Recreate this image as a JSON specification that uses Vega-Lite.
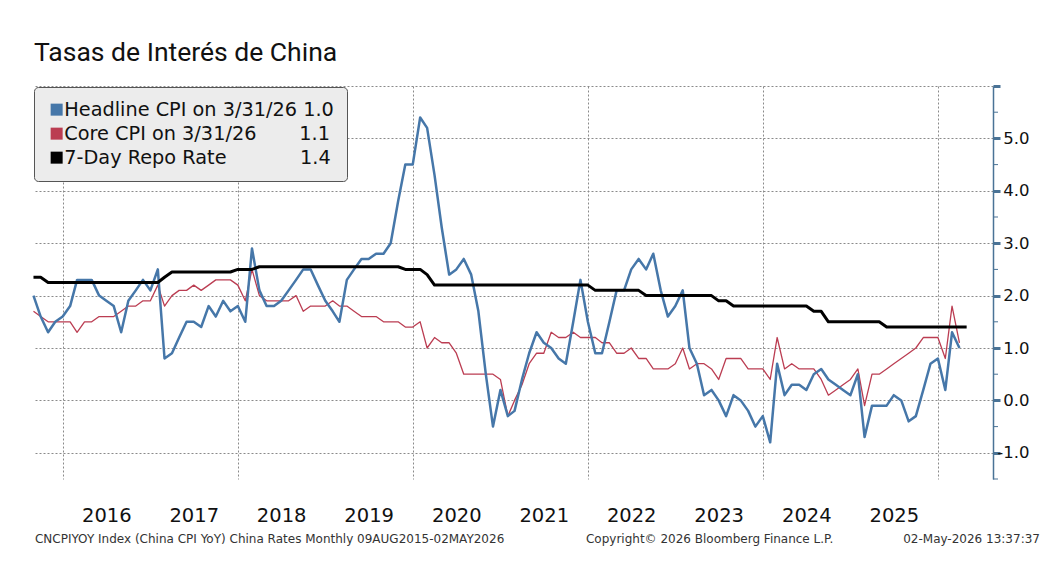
{
  "$schema": "https://vega.github.io/schema/vega-lite/v6.json",
  "autosize": "none",
  "width": 960,
  "height": 393,
  "padding": {"left": 33, "top": 86, "right": 68, "bottom": 85},
  "background": "white",
  "title": {"text": "Tasas de Interés de China", "anchor": "start", "frame": "group", "font": "Roboto", "fontSize": 26.5, "fontWeight": "normal", "color": "#111111", "offset": 12, "dx": 1},
  "config": {"view": {"stroke": null}, "font": "DejaVu Sans", "axis": {"grid": false}, "axisX": {"grid": false}, "axisTemporal": {"grid": false}},
  "datasets": {
    "years": [{"yr":"2016","mid":"2016-07-02"},{"yr":"2017","mid":"2017-07-02"},{"yr":"2018","mid":"2018-07-02"},{"yr":"2019","mid":"2019-07-02"},{"yr":"2020","mid":"2020-07-02"},{"yr":"2021","mid":"2021-07-02"},{"yr":"2022","mid":"2022-07-02"},{"yr":"2023","mid":"2023-07-02"},{"yr":"2024","mid":"2024-07-02"},{"yr":"2025","mid":"2025-07-02"}],
    "minor": [{"m":-1.5},{"m":-0.5},{"m":0.5},{"m":1.5},{"m":2.5},{"m":3.5},{"m":4.5},{"m":5.5}],
    "rates": [
    {"d":"2015-08-31","h":2.0,"c":1.7,"r":2.35},{"d":"2015-09-30","h":1.6,"c":1.6,"r":2.35},{"d":"2015-10-31","h":1.3,"c":1.5,"r":2.25},{"d":"2015-11-30","h":1.5,"c":1.5,"r":2.25},{"d":"2015-12-31","h":1.6,"c":1.5,"r":2.25},
    {"d":"2016-01-31","h":1.8,"c":1.5,"r":2.25},{"d":"2016-02-29","h":2.3,"c":1.3,"r":2.25},{"d":"2016-03-31","h":2.3,"c":1.5,"r":2.25},{"d":"2016-04-30","h":2.3,"c":1.5,"r":2.25},{"d":"2016-05-31","h":2.0,"c":1.6,"r":2.25},{"d":"2016-06-30","h":1.9,"c":1.6,"r":2.25},{"d":"2016-07-31","h":1.8,"c":1.6,"r":2.25},{"d":"2016-08-31","h":1.3,"c":1.7,"r":2.25},{"d":"2016-09-30","h":1.9,"c":1.8,"r":2.25},{"d":"2016-10-31","h":2.1,"c":1.8,"r":2.25},{"d":"2016-11-30","h":2.3,"c":1.9,"r":2.25},{"d":"2016-12-31","h":2.1,"c":1.9,"r":2.25},
    {"d":"2017-01-31","h":2.5,"c":2.2,"r":2.25},{"d":"2017-02-28","h":0.8,"c":1.8,"r":2.35},{"d":"2017-03-31","h":0.9,"c":2.0,"r":2.45},{"d":"2017-04-30","h":1.2,"c":2.1,"r":2.45},{"d":"2017-05-31","h":1.5,"c":2.1,"r":2.45},{"d":"2017-06-30","h":1.5,"c":2.2,"r":2.45},{"d":"2017-07-31","h":1.4,"c":2.1,"r":2.45},{"d":"2017-08-31","h":1.8,"c":2.2,"r":2.45},{"d":"2017-09-30","h":1.6,"c":2.3,"r":2.45},{"d":"2017-10-31","h":1.9,"c":2.3,"r":2.45},{"d":"2017-11-30","h":1.7,"c":2.3,"r":2.45},{"d":"2017-12-31","h":1.8,"c":2.2,"r":2.5},
    {"d":"2018-01-31","h":1.5,"c":1.9,"r":2.5},{"d":"2018-02-28","h":2.9,"c":2.5,"r":2.5},{"d":"2018-03-31","h":2.1,"c":2.0,"r":2.55},{"d":"2018-04-30","h":1.8,"c":1.9,"r":2.55},{"d":"2018-05-31","h":1.8,"c":1.9,"r":2.55},{"d":"2018-06-30","h":1.9,"c":1.9,"r":2.55},{"d":"2018-07-31","h":2.1,"c":1.9,"r":2.55},{"d":"2018-08-31","h":2.3,"c":2.0,"r":2.55},{"d":"2018-09-30","h":2.5,"c":1.7,"r":2.55},{"d":"2018-10-31","h":2.5,"c":1.8,"r":2.55},{"d":"2018-11-30","h":2.2,"c":1.8,"r":2.55},{"d":"2018-12-31","h":1.9,"c":1.8,"r":2.55},
    {"d":"2019-01-31","h":1.7,"c":1.9,"r":2.55},{"d":"2019-02-28","h":1.5,"c":1.8,"r":2.55},{"d":"2019-03-31","h":2.3,"c":1.8,"r":2.55},{"d":"2019-04-30","h":2.5,"c":1.7,"r":2.55},{"d":"2019-05-31","h":2.7,"c":1.6,"r":2.55},{"d":"2019-06-30","h":2.7,"c":1.6,"r":2.55},{"d":"2019-07-31","h":2.8,"c":1.6,"r":2.55},{"d":"2019-08-31","h":2.8,"c":1.5,"r":2.55},{"d":"2019-09-30","h":3.0,"c":1.5,"r":2.55},{"d":"2019-10-31","h":3.8,"c":1.5,"r":2.55},{"d":"2019-11-30","h":4.5,"c":1.4,"r":2.5},{"d":"2019-12-31","h":4.5,"c":1.4,"r":2.5},
    {"d":"2020-01-31","h":5.4,"c":1.5,"r":2.5},{"d":"2020-02-29","h":5.2,"c":1.0,"r":2.4},{"d":"2020-03-31","h":4.3,"c":1.2,"r":2.2},{"d":"2020-04-30","h":3.3,"c":1.1,"r":2.2},{"d":"2020-05-31","h":2.4,"c":1.1,"r":2.2},{"d":"2020-06-30","h":2.5,"c":0.9,"r":2.2},{"d":"2020-07-31","h":2.7,"c":0.5,"r":2.2},{"d":"2020-08-31","h":2.4,"c":0.5,"r":2.2},{"d":"2020-09-30","h":1.7,"c":0.5,"r":2.2},{"d":"2020-10-31","h":0.5,"c":0.5,"r":2.2},{"d":"2020-11-30","h":-0.5,"c":0.5,"r":2.2},{"d":"2020-12-31","h":0.2,"c":0.4,"r":2.2},
    {"d":"2021-01-31","h":-0.3,"c":-0.3,"r":2.2},{"d":"2021-02-28","h":-0.2,"c":0.0,"r":2.2},{"d":"2021-03-31","h":0.4,"c":0.3,"r":2.2},{"d":"2021-04-30","h":0.9,"c":0.7,"r":2.2},{"d":"2021-05-31","h":1.3,"c":0.9,"r":2.2},{"d":"2021-06-30","h":1.1,"c":0.9,"r":2.2},{"d":"2021-07-31","h":1.0,"c":1.3,"r":2.2},{"d":"2021-08-31","h":0.8,"c":1.2,"r":2.2},{"d":"2021-09-30","h":0.7,"c":1.2,"r":2.2},{"d":"2021-10-31","h":1.5,"c":1.3,"r":2.2},{"d":"2021-11-30","h":2.3,"c":1.2,"r":2.2},{"d":"2021-12-31","h":1.5,"c":1.2,"r":2.2},
    {"d":"2022-01-31","h":0.9,"c":1.2,"r":2.1},{"d":"2022-02-28","h":0.9,"c":1.1,"r":2.1},{"d":"2022-03-31","h":1.5,"c":1.1,"r":2.1},{"d":"2022-04-30","h":2.1,"c":0.9,"r":2.1},{"d":"2022-05-31","h":2.1,"c":0.9,"r":2.1},{"d":"2022-06-30","h":2.5,"c":1.0,"r":2.1},{"d":"2022-07-31","h":2.7,"c":0.8,"r":2.1},{"d":"2022-08-31","h":2.5,"c":0.8,"r":2.0},{"d":"2022-09-30","h":2.8,"c":0.6,"r":2.0},{"d":"2022-10-31","h":2.1,"c":0.6,"r":2.0},{"d":"2022-11-30","h":1.6,"c":0.6,"r":2.0},{"d":"2022-12-31","h":1.8,"c":0.7,"r":2.0},
    {"d":"2023-01-31","h":2.1,"c":1.0,"r":2.0},{"d":"2023-02-28","h":1.0,"c":0.6,"r":2.0},{"d":"2023-03-31","h":0.7,"c":0.7,"r":2.0},{"d":"2023-04-30","h":0.1,"c":0.7,"r":2.0},{"d":"2023-05-31","h":0.2,"c":0.6,"r":2.0},{"d":"2023-06-30","h":0.0,"c":0.4,"r":1.9},{"d":"2023-07-31","h":-0.3,"c":0.8,"r":1.9},{"d":"2023-08-31","h":0.1,"c":0.8,"r":1.8},{"d":"2023-09-30","h":0.0,"c":0.8,"r":1.8},{"d":"2023-10-31","h":-0.2,"c":0.6,"r":1.8},{"d":"2023-11-30","h":-0.5,"c":0.6,"r":1.8},{"d":"2023-12-31","h":-0.3,"c":0.6,"r":1.8},
    {"d":"2024-01-31","h":-0.8,"c":0.4,"r":1.8},{"d":"2024-02-29","h":0.7,"c":1.2,"r":1.8},{"d":"2024-03-31","h":0.1,"c":0.6,"r":1.8},{"d":"2024-04-30","h":0.3,"c":0.7,"r":1.8},{"d":"2024-05-31","h":0.3,"c":0.6,"r":1.8},{"d":"2024-06-30","h":0.2,"c":0.6,"r":1.8},{"d":"2024-07-31","h":0.5,"c":0.6,"r":1.7},{"d":"2024-08-31","h":0.6,"c":0.4,"r":1.7},{"d":"2024-09-30","h":0.4,"c":0.1,"r":1.5},{"d":"2024-10-31","h":0.3,"c":0.2,"r":1.5},{"d":"2024-11-30","h":0.2,"c":0.3,"r":1.5},{"d":"2024-12-31","h":0.1,"c":0.4,"r":1.5},
    {"d":"2025-01-31","h":0.5,"c":0.6,"r":1.5},{"d":"2025-02-28","h":-0.7,"c":-0.1,"r":1.5},{"d":"2025-03-31","h":-0.1,"c":0.5,"r":1.5},{"d":"2025-04-30","h":-0.1,"c":0.5,"r":1.5},{"d":"2025-05-31","h":-0.1,"c":0.6,"r":1.4},{"d":"2025-06-30","h":0.1,"c":0.7,"r":1.4},{"d":"2025-07-31","h":0.0,"c":0.8,"r":1.4},{"d":"2025-08-31","h":-0.4,"c":0.9,"r":1.4},{"d":"2025-09-30","h":-0.3,"c":1.0,"r":1.4},{"d":"2025-10-31","h":0.2,"c":1.2,"r":1.4},{"d":"2025-11-30","h":0.7,"c":1.2,"r":1.4},{"d":"2025-12-31","h":0.8,"c":1.2,"r":1.4},
    {"d":"2026-01-31","h":0.2,"c":0.8,"r":1.4},{"d":"2026-02-28","h":1.3,"c":1.8,"r":1.4},{"d":"2026-03-31","h":1.0,"c":1.1,"r":1.4},{"d":"2026-04-30","r":1.4}
  ]},
  "layer": [
    {
      "data": {"name": "rates"},
      "transform": [{"fold": ["h", "c", "r"], "as": ["series", "value"]}, {"filter": "datum.series === 'c'"}],
      "mark": {"type": "line", "strokeJoin": "round", "strokeWidth": 1.3},
      "encoding": {
        "x": {"field": "d", "type": "temporal",
          "scale": {"type": "utc", "domain": [{"year": 2015, "month": 8, "date": 29, "utc": true}, {"year": 2026, "month": 8, "date": 18, "utc": true}]},
          "axis": {"orient": "bottom", "title": null, "domain": false, "ticks": false, "labels": false,
            "tickCount": {"interval": "year", "step": 2},
            "grid": true, "gridColor": "#8a8a8a", "gridDash": [2, 2], "gridWidth": 1,
            "gridOpacity": {"condition": {"test": "utcyear(datum.value) % 2 === 0", "value": 1}, "value": 0}}},
        "y": {"field": "value", "type": "quantitative",
          "scale": {"domain": [-1.5, 6], "nice": false, "zero": false},
          "axis": {"orient": "right", "title": null,
            "values": [-1, 0, 1, 2, 3, 4, 5, 6],
            "labelExpr": "datum.value > 5.5 ? '' : (datum.value < 0 ? '-' + format(-datum.value, '.1f') : format(datum.value, '.1f'))",
            "labelAlign": "right", "labelPadding": 29, "labelFont": "DejaVu Sans", "labelFontSize": 16.5, "labelColor": "#111111",
            "labelOverlap": false, "labelBound": false, "labelFlush": false,
            "domainColor": "#4a7396", "domainWidth": 1.5,
            "tickColor": "#4a7396", "tickSize": 7, "tickWidth": 3,
            "grid": true, "gridColor": "#8a8a8a", "gridDash": [2, 2], "gridWidth": 1}},
        "color": {"field": "series", "type": "nominal",
          "scale": {"domain": ["h", "c", "r"], "range": ["#4677a9", "#bb3d52", "#000000"]},
          "legend": {"orient": "top-left", "offset": 1, "title": null, "fillColor": "#ececec", "strokeColor": "#555555", "cornerRadius": 4, "padding": 13,
            "labelFont": "DejaVu Sans", "labelFontSize": 19.3, "labelColor": "#111111", "labelLimit": 600, "labelOffset": -2,
            "symbolType": "square", "symbolSize": 144, "symbolStrokeWidth": 0, "rowPadding": 4,
            "values": ["h", "c", "r"],
            "labelExpr": "datum.label === 'h' ? 'Headline CPI on 3/31/26 1.0' : datum.label === 'c' ? 'Core CPI on 3/31/26\u00a0\u00a0\u00a0\u00a0\u00a0\u00a0\u00a01.1' : '7-Day Repo Rate\u00a0\u00a0\u00a0\u00a0\u00a0\u00a0\u00a0\u00a0\u00a0\u00a0\u00a0\u00a01.4'",
            "encode": {"symbols": {"update": {"fill": {"scale": "color", "field": "value"}, "strokeWidth": {"value": 0}}}}}}
      }
    },
    {
      "data": {"name": "rates"},
      "transform": [{"fold": ["h", "c", "r"], "as": ["series", "value"]}, {"filter": "datum.series === 'h'"}],
      "mark": {"type": "line", "strokeJoin": "round", "strokeWidth": 2.5},
      "encoding": {"x": {"field": "d", "type": "temporal"}, "y": {"field": "value", "type": "quantitative"}, "color": {"field": "series", "type": "nominal"}}
    },
    {
      "data": {"name": "rates"},
      "transform": [{"fold": ["h", "c", "r"], "as": ["series", "value"]}, {"filter": "datum.series === 'r'"}],
      "mark": {"type": "line", "strokeJoin": "round", "strokeWidth": 3},
      "encoding": {"x": {"field": "d", "type": "temporal"}, "y": {"field": "value", "type": "quantitative"}, "color": {"field": "series", "type": "nominal"}}
    },
    {
      "data": {"name": "minor"},
      "mark": {"type": "tick", "orient": "horizontal", "size": 5, "thickness": 1, "color": "#4a7396", "xOffset": 2.5, "opacity": 1},
      "encoding": {
        "x": {"datum": {"year": 2026, "month": 8, "date": 18, "utc": true}, "type": "temporal"},
        "y": {"field": "m", "type": "quantitative"}
      }
    },
    {
      "data": {"name": "years"},
      "mark": {"type": "text", "align": "center", "baseline": "middle", "font": "DejaVu Sans", "fontSize": 19.5, "color": "#111111"},
      "encoding": {
        "x": {"field": "mid", "type": "temporal"},
        "y": {"datum": -2.2, "type": "quantitative"},
        "text": {"field": "yr"}
      }
    },
    {
      "data": {"values": [{}]},
      "mark": {"type": "text", "align": "left", "baseline": "middle", "font": "DejaVu Sans", "fontSize": 12, "color": "#333333"},
      "encoding": {
        "x": {"datum": {"year": 2015, "month": 9, "date": 6, "utc": true}, "type": "temporal"},
        "y": {"datum": -2.65, "type": "quantitative"},
        "text": {"value": "CNCPIYOY Index (China CPI YoY) China Rates Monthly 09AUG2015-02MAY2026"}
      }
    },
    {
      "data": {"values": [{}]},
      "mark": {"type": "text", "align": "left", "baseline": "middle", "font": "DejaVu Sans", "fontSize": 12, "color": "#333333"},
      "encoding": {
        "x": {"datum": {"year": 2021, "month": 12, "date": 23, "utc": true}, "type": "temporal"},
        "y": {"datum": -2.65, "type": "quantitative"},
        "text": {"value": "Copyright© 2026 Bloomberg Finance L.P."}
      }
    },
    {
      "data": {"values": [{}]},
      "mark": {"type": "text", "align": "right", "baseline": "middle", "font": "DejaVu Sans", "fontSize": 12, "color": "#333333"},
      "encoding": {
        "x": {"datum": {"year": 2027, "month": 3, "date": 2, "utc": true}, "type": "temporal"},
        "y": {"datum": -2.65, "type": "quantitative"},
        "text": {"value": "02-May-2026 13:37:37"}
      }
    }
  ]
}
